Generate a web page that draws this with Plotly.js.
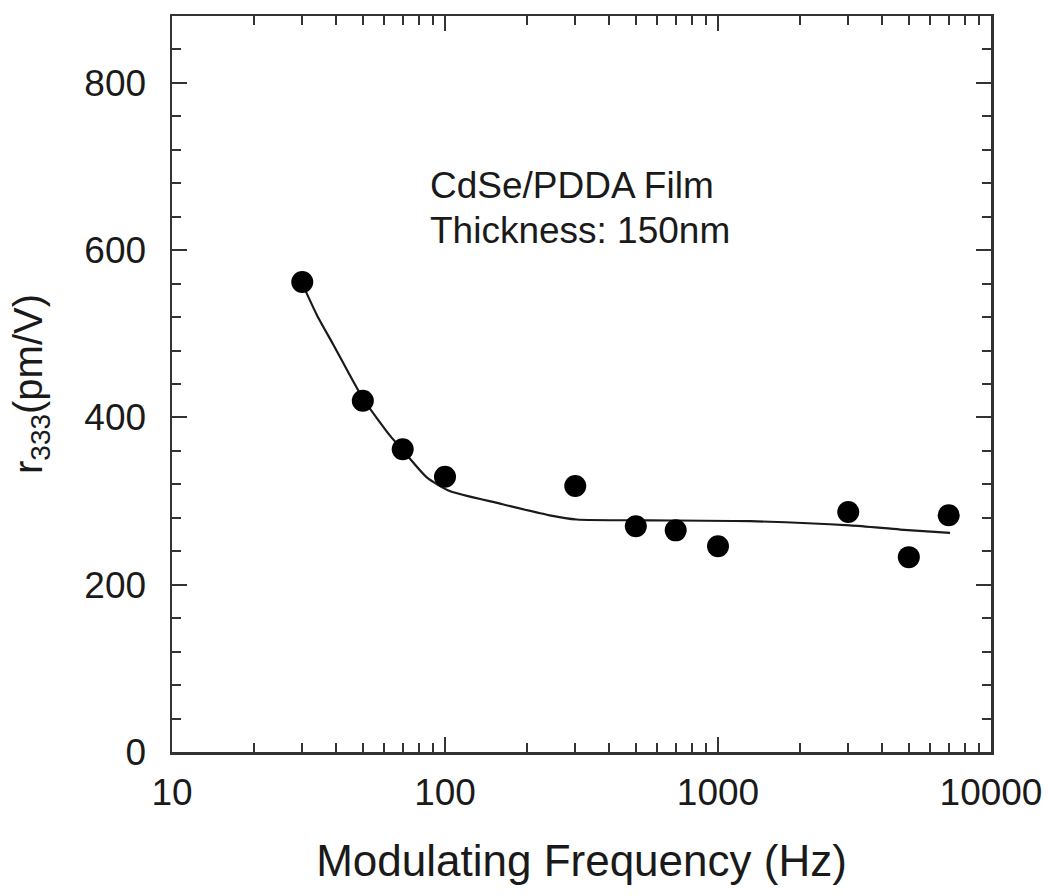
<!DOCTYPE html>
<html>
<head>
<meta charset="utf-8">
<script src="https://cdn.plot.ly/plotly-3.0.1.min.js"></script>
<style>html,body{margin:0;padding:0;background:#fff;}#chart{width:1050px;height:896px;}</style>
</head>
<body>
<div id="chart"></div>
<script>
const freqHz = [30, 50, 70, 100, 300, 500, 700, 1000, 3000, 5000, 7000];
const r333 = [562, 420, 362, 329, 318, 270, 265, 246, 287, 233, 283];

// Fitted curve as drawn in the reference
const fitFreq = [30, 34, 39, 50, 63, 70, 86, 104, 159, 242, 304, 564, 1310, 3045, 4645, 7080];
const fitVal  = [560, 522, 487, 423, 378, 361, 328, 312, 297, 283, 278, 277, 276, 271, 266, 262];

// Axis ticks
const xTickVals = [10, 100, 1000, 10000];
const xTickText = ['10', '100', '1000', '10000'];
const yTickVals = [0, 200, 400, 600, 800];
const yTickText = ['0', '200', '400', '600', '800'];

const FONT = '"Liberation Sans", Arial, Helvetica, sans-serif';
const INK = '#1a1a1a';
const AXC = '#333333';

const traces = [
  {
    x: fitFreq, y: fitVal, type: 'scatter', mode: 'lines',
    line: {color: INK, width: 2.2, shape: 'spline', smoothing: 0.6}, hoverinfo: 'skip', showlegend: false
  },
  {
    x: freqHz, y: r333, type: 'scatter', mode: 'markers',
    marker: {color: '#000', size: 22, symbol: 'circle'}, showlegend: false
  }
];

const layout = {
  width: 1050, height: 896,
  margin: {l: 172, r: 59, t: 16, b: 144},
  paper_bgcolor: '#fff', plot_bgcolor: '#fff',
  font: {family: FONT, color: INK},
  showlegend: false,
  xaxis: {
    type: 'log', range: [1, 4],
    tickvals: xTickVals, ticktext: xTickText,
    ticks: 'inside', ticklen: 15, tickwidth: 2, tickcolor: AXC,
    showline: true, linecolor: AXC, linewidth: 2.5, mirror: 'ticks',
    showgrid: false, zeroline: false,
    tickfont: {size: 37, family: FONT, color: INK},
    ticklabelstandoff: 6,
    minor: {ticks: 'inside', ticklen: 9, tickwidth: 2, tickcolor: AXC, dtick: 'D1', showgrid: false},
    title: {text: 'Modulating Frequency (Hz)', font: {size: 44, family: FONT, color: INK}, standoff: 34},
    automargin: false
  },
  yaxis: {
    range: [0, 880],
    tickvals: yTickVals, ticktext: yTickText,
    ticks: 'inside', ticklen: 15, tickwidth: 2, tickcolor: AXC,
    showline: true, linecolor: AXC, linewidth: 2.5, mirror: 'ticks',
    showgrid: false, zeroline: false,
    tickfont: {size: 37, family: FONT, color: INK},
    ticklabelstandoff: 16,
    minor: {ticks: 'inside', ticklen: 9, tickwidth: 2, tickcolor: AXC, dtick: 40, showgrid: false},
    title: {text: 'r<sub>333</sub>(pm/V)', font: {size: 40, family: FONT, color: INK}, standoff: 30},
    automargin: false
  },
  annotations: [
    {xref: 'paper', yref: 'paper', x: 0.313, y: 0.770, xanchor: 'left', yanchor: 'middle',
     text: 'CdSe/PDDA Film', showarrow: false, font: {size: 37, family: FONT, color: INK}},
    {xref: 'paper', yref: 'paper', x: 0.313, y: 0.709, xanchor: 'left', yanchor: 'middle',
     text: 'Thickness: 150nm', showarrow: false, font: {size: 37, family: FONT, color: INK}}
  ]
};

Plotly.newPlot('chart', traces, layout, {staticPlot: true, displayModeBar: false});
</script>
</body>
</html>
